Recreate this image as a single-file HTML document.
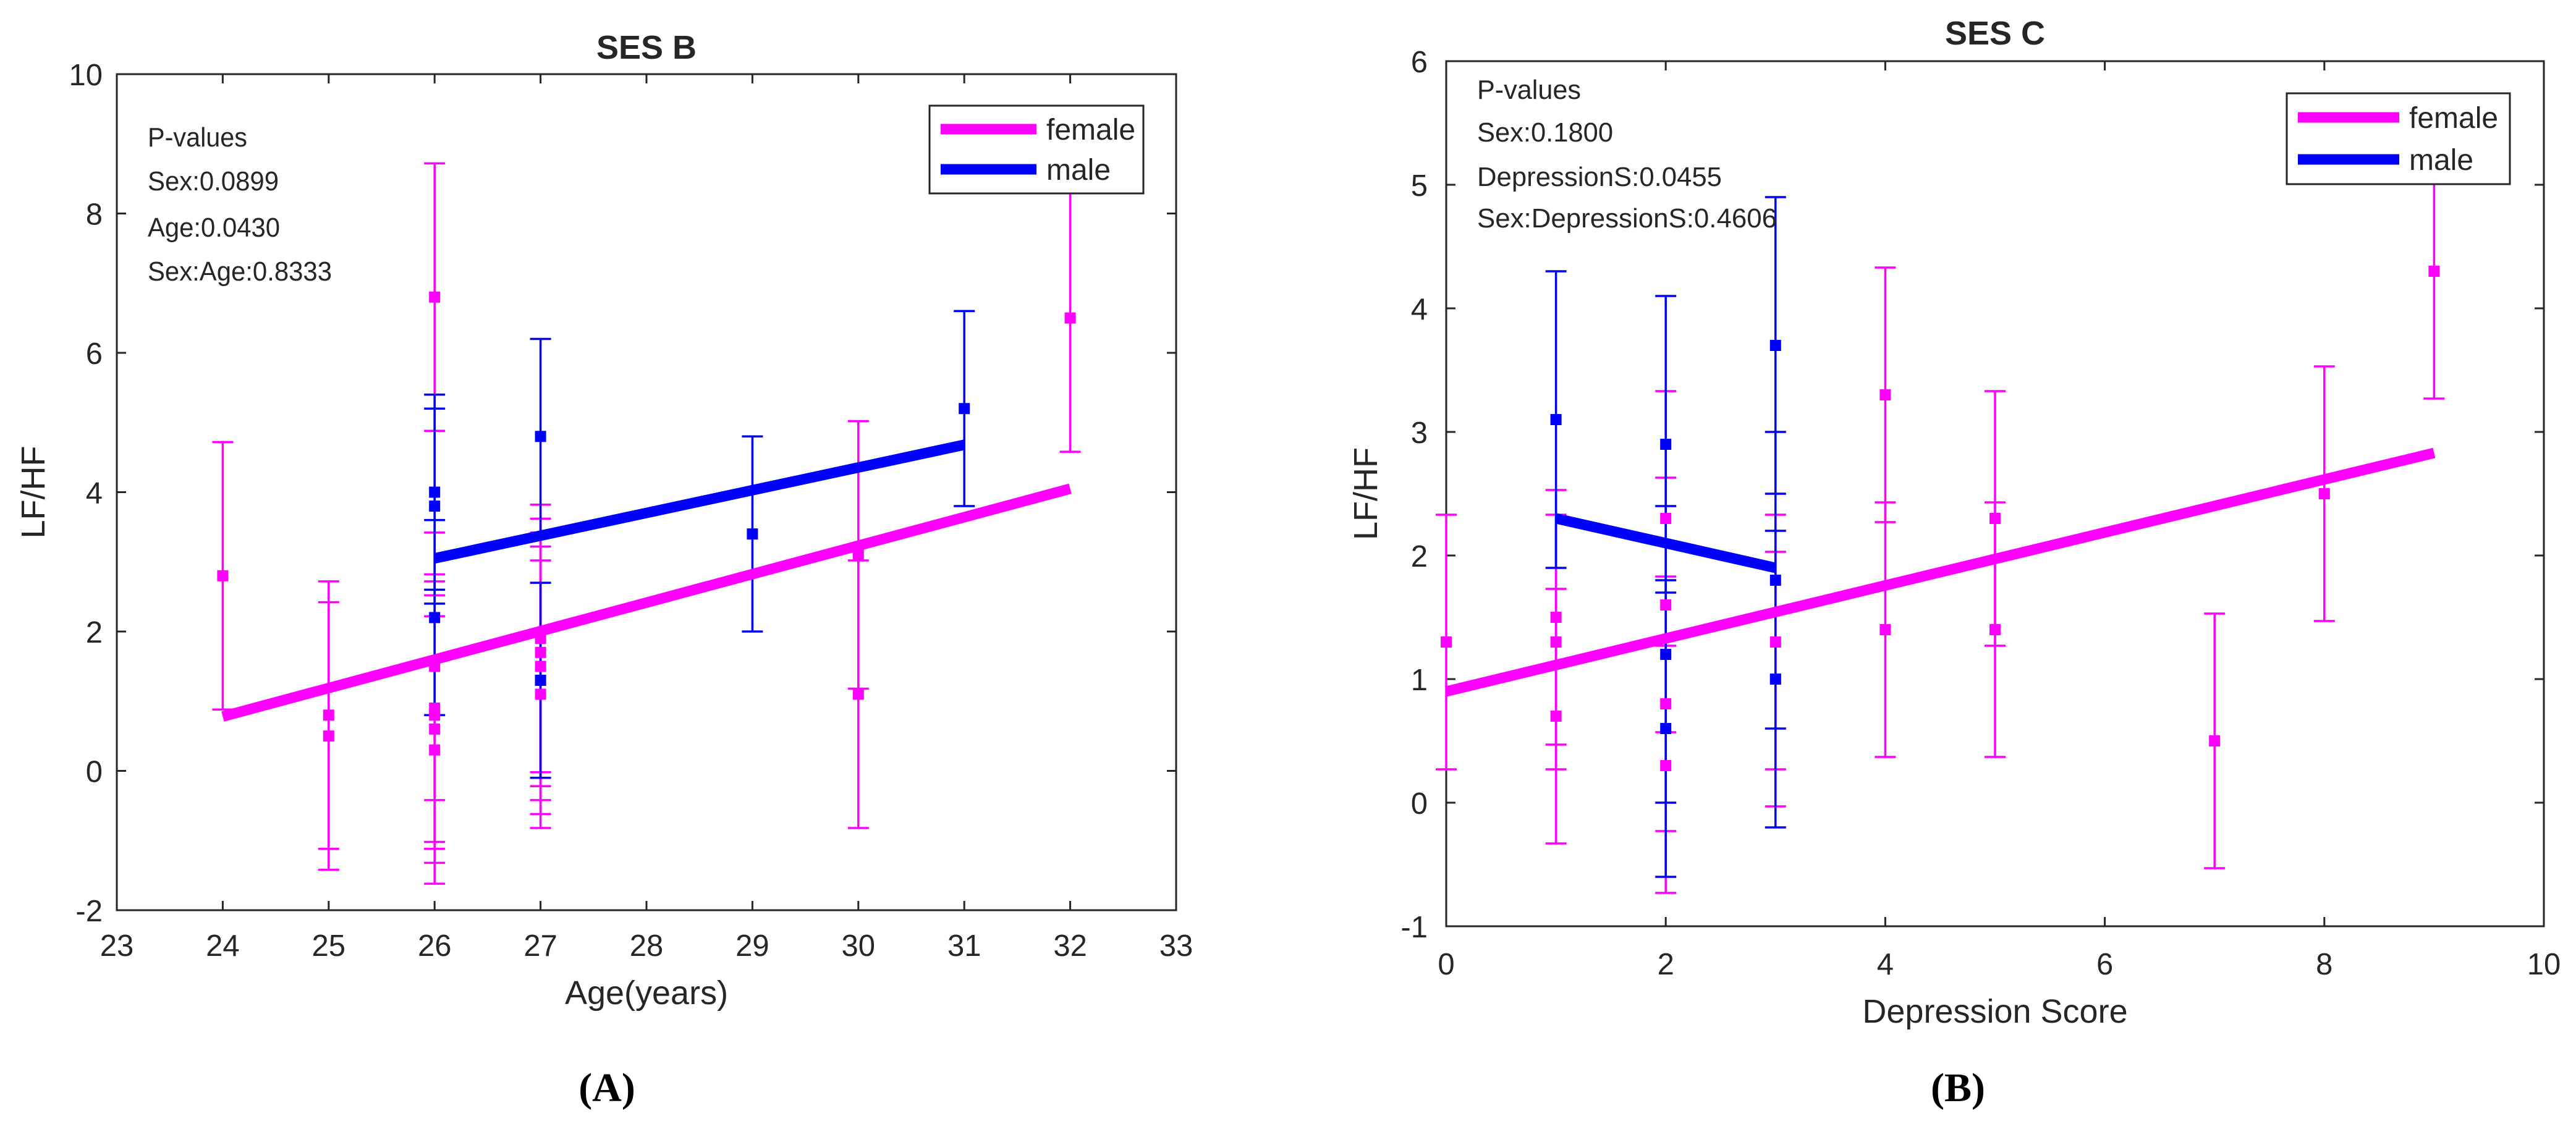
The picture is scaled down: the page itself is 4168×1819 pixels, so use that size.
<!DOCTYPE html>
<html><head><meta charset="utf-8"><style>
html,body{margin:0;padding:0;background:#fff;}
svg{display:block;}
text{font-family:"Liberation Sans",sans-serif;fill:#262626;}
</style></head><body>
<svg id="fig" width="4168" height="1819" viewBox="0 0 4168 1819" xmlns="http://www.w3.org/2000/svg">
<g id="pa"></g>
<g id="pb"></g>
<text x="982" y="1782" text-anchor="middle" style="font-family:'Liberation Serif',serif;font-size:66px;font-weight:bold;fill:#000">(A)</text>
<text x="3168" y="1782" text-anchor="middle" style="font-family:'Liberation Serif',serif;font-size:66px;font-weight:bold;fill:#000">(B)</text>
</svg>
<script>
// Panel A data
const aFemaleX = [24,25,25,26,26,26,26,26,26,27,27,27,27,27,30,30,32];
const aFemaleY = [2.8,0.8,0.5,6.8,1.5,0.9,0.8,0.6,0.3,1.9,1.7,1.5,1.3,1.1,3.1,1.1,6.5];
const aFemaleErr = 1.92;
const aMaleX = [26,26,26,27,27,29,31];
const aMaleY = [4.0,3.8,2.2,4.8,1.3,3.4,5.2];
const aMaleErr = 1.4;
const aFemaleFit = [[24,0.78],[32,4.05]];
const aMaleFit = [[26,3.05],[31,4.68]];
const aXTicks = [23,24,25,26,27,28,29,30,31,32,33];
const aYTicks = [-2,0,2,4,6,8,10];
// Panel B data
const bFemaleX = [0,1,1,1,2,2,2,2,3,3,4,4,5,5,7,8,9];
const bFemaleY = [1.3,1.5,1.3,0.7,2.3,1.6,0.8,0.3,1.3,1.0,3.3,1.4,2.3,1.4,0.5,2.5,4.3];
const bFemaleErr = 1.03;
const bMaleX = [1,2,2,2,3,3,3];
const bMaleY = [3.1,2.9,1.2,0.6,3.7,1.8,1.0];
const bMaleErr = 1.2;
const bFemaleFit = [[0,0.9],[9,2.83]];
const bMaleFit = [[1,2.3],[3,1.9]];
const bXTicks = [0,2,4,6,8,10];
const bYTicks = [-1,0,1,2,3,4,5,6];

const NS="http://www.w3.org/2000/svg";
function mk(parent,tag,attrs,txt){const e=document.createElementNS(NS,tag);for(const k in attrs)e.setAttribute(k,attrs[k]);if(txt!==undefined)e.textContent=txt;parent.appendChild(e);return e;}

function panel(g,cfg){
  const sx=v=>cfg.L+(v-cfg.x0)/(cfg.x1-cfg.x0)*(cfg.R-cfg.L);
  const sy=v=>cfg.B-(v-cfg.y0)/(cfg.y1-cfg.y0)*(cfg.B-cfg.T);
  const fg=mk(g,'rect',{x:cfg.L,y:cfg.T,width:cfg.R-cfg.L,height:cfg.B-cfg.T,fill:'#fff',stroke:'#262626','stroke-width':3});
  
  
  cfg.xt.forEach(t=>{
    const x=sx(t);
    const tk=mk(g,'path',{d:`M${x},${cfg.B}v-15M${x},${cfg.T}v15`,stroke:'#262626','stroke-width':3});
    
    
    const lb=mk(g,'text',{x:x,y:cfg.xlY,'text-anchor':'middle','font-size':49},String(t));
    
    
  });
  cfg.yt.forEach(t=>{
    const y=sy(t);
    const tk=mk(g,'path',{d:`M${cfg.L},${y}h15M${cfg.R},${y}h-15`,stroke:'#262626','stroke-width':3});
    
    
    const lb=mk(g,'text',{x:cfg.ylX,y:y+18,'text-anchor':'end','font-size':49},String(t));
    
    
  });
  function errs(xs,ys,e,col,name){
    xs.forEach((xv,i)=>{
      const x=sx(xv),yl=sy(ys[i]-e),yh=sy(ys[i]+e);
      const p=mk(g,'path',{d:`M${x},${yl}V${yh}M${x-17},${yl}h34M${x-17},${yh}h34`,stroke:col,'stroke-width':3.5,fill:'none'});
      
      
    });
  }
  function pts(xs,ys,col,name){
    xs.forEach((xv,i)=>{
      const r=mk(g,'rect',{x:sx(xv)-9,y:sy(ys[i])-9,width:18,height:18,fill:col});
      
      
    });
  }
  function fit(f,col,name){
    const l=mk(g,'line',{x1:sx(f[0][0]),y1:sy(f[0][1]),x2:sx(f[1][0]),y2:sy(f[1][1]),stroke:col,'stroke-width':17});
    
    
  }
  errs(cfg.fx,cfg.fy,cfg.fe,'#ff00ff','female');
  errs(cfg.mx,cfg.my,cfg.me,'#0000ff','male');
  pts(cfg.fx,cfg.fy,'#ff00ff','female');
  pts(cfg.mx,cfg.my,'#0000ff','male');
  fit(cfg.ff,'#ff00ff','female');
  fit(cfg.mf,'#0000ff','male');
  // legend
  const lg=cfg.lg;
  const lb=mk(g,'rect',{x:lg.x,y:lg.y,width:lg.w,height:lg.h,fill:'#fff',stroke:'#262626','stroke-width':3});
  
  
  [['female','#ff00ff',lg.y1],['male','#0000ff',lg.y2]].forEach(([n,c,y])=>{
    const s=mk(g,'line',{x1:lg.l1,x2:lg.l2,y1:y,y2:y,stroke:c,'stroke-width':17});
    
    
    const t=mk(g,'text',{x:lg.tx,y:y+17,'font-size':48,fill:'#000'},n);
    
    
  });
  // p-values
  cfg.pv.forEach((s,i)=>{
    const t=mk(g,'text',{x:cfg.pvX,y:cfg.pvY[i],'font-size':44,textLength:cfg.pvW[i],lengthAdjust:'spacingAndGlyphs'},s);
    
    
  });
  const ti=mk(g,'text',{x:(cfg.L+cfg.R)/2,y:cfg.titleY,'text-anchor':'middle','font-size':54,'font-weight':'bold',fill:'#000'},cfg.title);
  
  
  const xl=mk(g,'text',{x:(cfg.L+cfg.R)/2,y:cfg.xtY,'text-anchor':'middle','font-size':54},cfg.xtitle);
  
  
  const cy=(cfg.T+cfg.B)/2;
  const yl=mk(g,'text',{x:cfg.ytX,y:cy,'text-anchor':'middle','font-size':54,transform:`rotate(-90 ${cfg.ytX} ${cy})`},'LF/HF');
  
  
}

panel(document.getElementById('pa'),{L:189,R:1903,T:120,B:1473,x0:23,x1:33,y0:-2,y1:10,
  xt:aXTicks,yt:aYTicks,xlY:1547,ylX:166,
  fx:aFemaleX,fy:aFemaleY,fe:aFemaleErr,mx:aMaleX,my:aMaleY,me:aMaleErr,ff:aFemaleFit,mf:aMaleFit,
  lg:{x:1504,y:171,w:346,h:142,l1:1522,l2:1677,y1:209,y2:274,tx:1693},
  pv:['P-values','Sex:0.0899','Age:0.0430','Sex:Age:0.8333'],pvX:239,pvY:[237,308,383,454],pvW:[161,212,214,298],
  title:'SES B',titleY:95,xtitle:'Age(years)',xtY:1625,ytX:72});

panel(document.getElementById('pb'),{L:2340,R:4116,T:99,B:1499,x0:0,x1:10,y0:-1,y1:6,
  xt:bXTicks,yt:bYTicks,xlY:1577,ylX:2310,
  fx:bFemaleX,fy:bFemaleY,fe:bFemaleErr,mx:bMaleX,my:bMaleY,me:bMaleErr,ff:bFemaleFit,mf:bMaleFit,
  lg:{x:3700,y:151,w:361,h:147,l1:3718,l2:3882,y1:190,y2:258,tx:3898},
  pv:['P-values','Sex:0.1800','DepressionS:0.0455','Sex:DepressionS:0.4606'],pvX:2390,pvY:[160,229,301,368],pvW:[168,220,396,485],
  title:'SES C',titleY:72,xtitle:'Depression Score',xtY:1655,ytX:2228});
</script>
</body></html>
